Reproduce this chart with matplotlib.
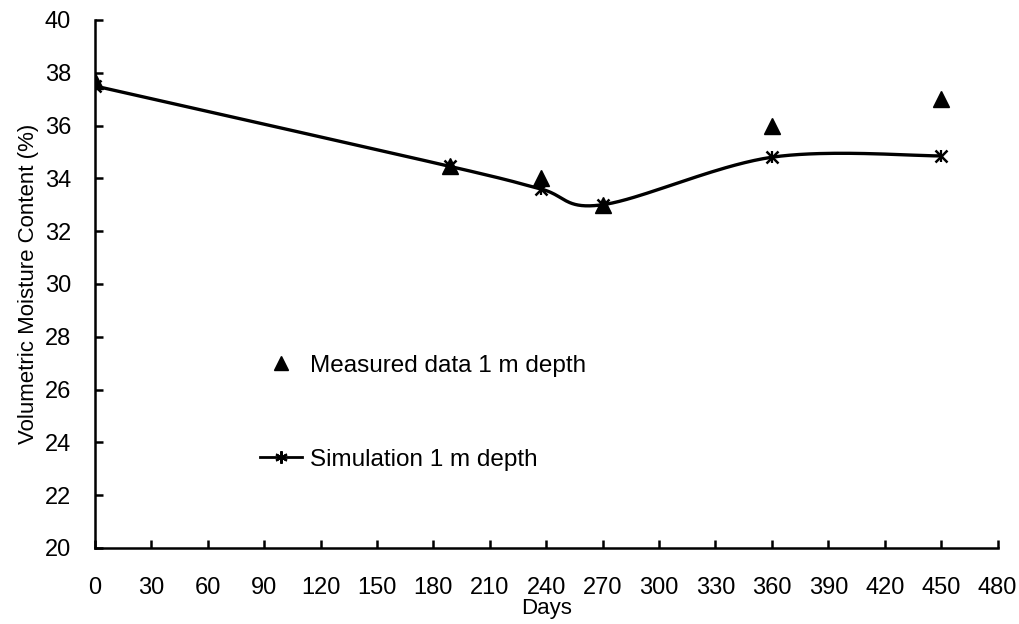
import numpy as np
import matplotlib
matplotlib.use("Agg")
import matplotlib.pyplot as plt
from matplotlib.lines import Line2D

plt.rcParams['font.family'] = ['Liberation Sans', 'DejaVu Sans']

measured_days = [0, 189, 237, 270, 360, 450]
measured_vmc = [37.7, 34.45, 34.0, 33.0, 36.0, 37.0]
sim_days = [0, 189, 237, 270, 360, 450]
sim_vmc = [37.5, 34.45, 33.6, 33.0, 34.8, 34.85]
x_ticks = list(range(0, 481, 30))
y_ticks = list(range(20, 41, 2))


def smooth(xs, ys, n=40):
    # Excel-like smoothed line: Catmull-Rom style cubic Bezier through points
    xs = np.asarray(xs, float); ys = np.asarray(ys, float)
    px, py = [], []
    m = len(xs)
    for i in range(m - 1):
        x0, y0 = (xs[i - 1], ys[i - 1]) if i > 0 else (xs[i], ys[i])
        x1, y1 = xs[i], ys[i]
        x2, y2 = xs[i + 1], ys[i + 1]
        x3, y3 = (xs[i + 2], ys[i + 2]) if i + 2 < m else (xs[i + 1], ys[i + 1])
        c1x = x1 + (x2 - x0) / 6; c1y = y1 + (y2 - y0) / 6
        c2x = x2 - (x3 - x1) / 6; c2y = y2 - (y3 - y1) / 6
        t = np.linspace(0, 1, n)
        bx = (1-t)**3*x1 + 3*(1-t)**2*t*c1x + 3*(1-t)*t**2*c2x + t**3*x2
        by = (1-t)**3*y1 + 3*(1-t)**2*t*c1y + 3*(1-t)*t**2*c2y + t**3*y2
        px.extend(bx); py.extend(by)
    return np.array(px), np.array(py)


fig = plt.figure(figsize=(10.2, 6.24), dpi=100)
ax = fig.add_axes([0.093, 0.122, 0.885, 0.846])

sx, sy = smooth(sim_days, sim_vmc)
ax.plot(sx, sy, color='black', lw=2.4, solid_capstyle='round')
ax.plot(sim_days, sim_vmc, linestyle='none', marker='x', color='black',
        markersize=8, markeredgewidth=1.8)
ax.plot(sim_days, sim_vmc, linestyle='none', marker='|', color='black',
        markersize=8, markeredgewidth=1.6)
ax.plot(measured_days, measured_vmc, linestyle='none', marker='^', color='black',
        markersize=11)

ax.set_xlim(0, 480)
ax.set_ylim(20, 40)
ax.set_xticks(x_ticks)
ax.set_yticks(y_ticks)
ax.spines['top'].set_visible(False)
ax.spines['right'].set_visible(False)
for s in ('left', 'bottom'):
    ax.spines[s].set_linewidth(1.8)
ax.tick_params(axis='both', direction='in', length=6, width=1.8, labelsize=17)
ax.tick_params(axis='x', pad=21)
ax.tick_params(axis='y', pad=17)
ax.set_xlabel('Days', fontsize=16, labelpad=-1)
ax.set_ylabel('Volumetric Moisture Content (%)', fontsize=16, labelpad=4)

h1 = Line2D([], [], linestyle='none', marker='^', color='black', markersize=10)
h2 = Line2D([], [], color='black', lw=2, marker=(6, 2, 0), markersize=9, markeredgewidth=1.5)
ax.legend([h1, h2], ['Measured data 1 m depth', 'Simulation 1 m depth'],
          loc='upper left', bbox_to_anchor=(0.172, 0.384), frameon=False,
          fontsize=17.5, labelspacing=2.95, handlelength=1.75, handletextpad=0.3,
          borderaxespad=0)

fig.savefig('out.png', dpi=100)
